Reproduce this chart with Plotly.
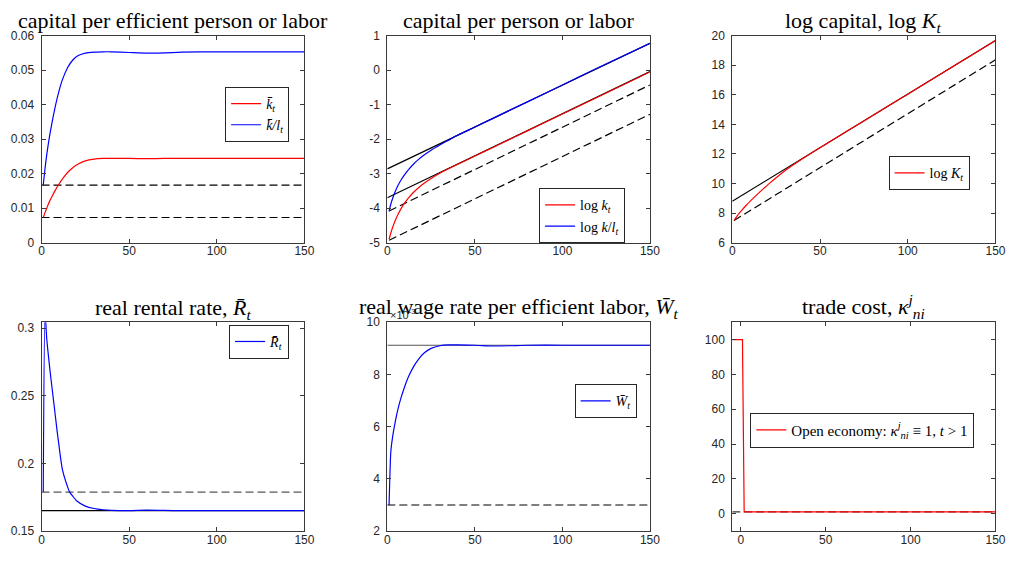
import plotly.graph_objects as go

# ---- time grid (sampled periods) ----
t = [1, 2, 3, 4, 5, 6, 8, 10, 12, 15, 18, 21, 25, 30, 35, 40, 50, 60, 70, 80, 100, 120, 150]

# panel 1: capital per efficient person / labor
k_bar = [0.0073, 0.0087, 0.0100, 0.0113, 0.0124, 0.0134, 0.0153, 0.0170, 0.0185, 0.0204, 0.0218,
         0.0228, 0.0237, 0.0242, 0.0244, 0.02445, 0.0244, 0.02435, 0.0244, 0.0244, 0.0244, 0.0244, 0.0244]
kl_bar = [0.0167, 0.0215, 0.0255, 0.0290, 0.0320, 0.0348, 0.0398, 0.0440, 0.0473, 0.0508, 0.0530,
          0.0542, 0.0549, 0.0552, 0.0553, 0.0553, 0.0551, 0.0549, 0.0550, 0.0552, 0.0553, 0.0553, 0.0553]
k_bar_init, kl_bar_init = 0.0073, 0.0167

# panel 2: capital per person / labor (logs)
log_k = [-4.90, -4.72, -4.56, -4.42, -4.30, -4.19, -4.00, -3.84, -3.71, -3.54, -3.40,
         -3.28, -3.14, -2.99, -2.86, -2.735, -2.49, -2.25, -2.005, -1.76, -1.273, -0.785, -0.053]
log_kl = [-4.09, -3.88, -3.72, -3.58, -3.46, -3.35, -3.17, -3.02, -2.89, -2.72, -2.58,
          -2.46, -2.32, -2.17, -2.03, -1.89, -1.65, -1.405, -1.16, -0.92, -0.43, 0.06, 0.774]
bgp_t = [0, 150]
bgp_log_k = [-3.70, -0.045]
bgp_log_kl = [-2.862, 0.774]
init_t = [1, 150]
init_log_k = [-4.93, -1.28]
init_log_kl = [-4.08, -0.43]

# panel 3: log aggregate capital
log_K = [7.50, 7.675, 7.84, 7.99, 8.13, 8.275, 8.53, 8.775, 9.01, 9.35, 9.67,
         9.99, 10.39, 10.86, 11.29, 11.68, 12.42, 13.15, 13.87, 14.60, 16.04, 17.49, 19.67]
bgp_log_K = [8.80, 19.67]
init_log_K = [7.50, 18.36]

# panel 4: real rental rate
t_r = [1, 2, 3, 4, 5, 6, 7, 8, 9, 10, 11, 12, 14, 16, 18, 20, 25, 30, 35, 40, 50, 60, 70, 80, 100, 150]
R_bar = [0.179, 0.312, 0.292, 0.279, 0.267, 0.256, 0.245, 0.234, 0.223, 0.213, 0.203, 0.195, 0.186,
         0.179, 0.1755, 0.1725, 0.1685, 0.1667, 0.1658, 0.1654, 0.1652, 0.1655, 0.1653, 0.1651, 0.1651, 0.1651]
R_ss, R_init = 0.1651, 0.1788

# panel 5: real wage per efficient labor
t_w = [1, 2, 3, 4, 5, 6, 8, 10, 12, 15, 18, 21, 25, 30, 35, 40, 50, 60, 70, 80, 100, 150]
W_bar = [0.00300, 0.00505, 0.00560, 0.00600, 0.00635, 0.00665, 0.00715, 0.00755, 0.00790, 0.00830,
         0.00860, 0.00882, 0.00900, 0.00910, 0.00913, 0.00913, 0.00912, 0.00909, 0.00910, 0.00912,
         0.00912, 0.00912]
W_ss, W_init = 0.00912, 0.00300

# panel 6: trade cost
t_tc = [-5, 1, 2, 150]
kappa = [100, 100, 1, 1]
kappa_ref = 1

RED, BLUE, BLACK = "#ff0000", "#0000ff", "#000000"
DASH = "8px,4px"
LW = 1.2

fig = go.Figure()


def line(x, y, color, ax, dash=None, name=None, legend=None, shape="linear", width=LW):
    fig.add_trace(go.Scatter(
        x=x, y=y, mode="lines", name=name or "",
        line=dict(color=color, width=width, dash=dash, shape=shape, smoothing=0.6),
        xaxis="x" + ax, yaxis="y" + ax,
        showlegend=name is not None, legend=legend, hoverinfo="skip"))


full = [0, 150]
# panel 1
line(full, [k_bar_init] * 2, BLACK, "", DASH)
line(full, [kl_bar_init] * 2, BLACK, "", DASH)
line(t, k_bar, RED, "", name="<i>k̄<sub>t</sub></i>", legend="legend", shape="spline")
line(t, kl_bar, BLUE, "", name="<i>k̄/l<sub>t</sub></i>", legend="legend", shape="spline")
# panel 2
line(bgp_t, bgp_log_kl, BLACK, "2")
line(bgp_t, bgp_log_k, BLACK, "2")
line(init_t, init_log_kl, BLACK, "2", DASH)
line(init_t, init_log_k, BLACK, "2", DASH)
line(t, log_k, RED, "2", name="log <i>k<sub>t</sub></i>", legend="legend2", shape="spline")
line(t, log_kl, BLUE, "2", name="log <i>k</i>/<i>l<sub>t</sub></i>", legend="legend2", shape="spline")
# panel 3
line(bgp_t, bgp_log_K, BLACK, "3")
line(init_t, init_log_K, BLACK, "3", DASH)
line(t, log_K, RED, "3", name="log <i>K<sub>t</sub></i>", legend="legend3", shape="spline")
# panel 4
line(full, [R_ss] * 2, BLACK, "4")
line(full, [R_init] * 2, "#555555", "4", DASH)
line(t_r, R_bar, BLUE, "4", name="<i>R̄<sub>t</sub></i>", legend="legend4", shape="spline")
# panel 5
line(full, [W_ss] * 2, "#555555", "5")
line(full, [W_init] * 2, BLACK, "5", DASH)
line(t_w, W_bar, BLUE, "5", name="<i>W̄<sub>t</sub></i>", legend="legend5", shape="spline")
# panel 6
line([-5, 150], [kappa_ref] * 2, "#333333", "6", DASH)
line(t_tc, kappa, RED, "6", name="Open economy: <i>κ</i><sup><i>j</i></sup><sub><i>ni</i></sub> ≡ 1, <i>t</i> > 1",
     legend="legend6")

W, H = 1019, 562
cols = [(39.0, 305.3), (389.3, 655.3), (738.7, 1005.3)]
rows = [(29.3, 241.7), (323.3, 537.5)]

AX = "#262626"
tickfont = dict(family="Liberation Sans, Arial, sans-serif", size=12, color=AX)

panels = [
    dict(x=[0, 150], y=[0, 0.06], yt=[0, 0.01, 0.02, 0.03, 0.04, 0.05, 0.06],
         ytt=["0", "0.01", "0.02", "0.03", "0.04", "0.05", "0.06"], xt=[0, 50, 100, 150]),
    dict(x=[0, 150], y=[-5, 1], yt=[-5, -4, -3, -2, -1, 0, 1],
         ytt=["-5", "-4", "-3", "-2", "-1", "0", "1"], xt=[0, 50, 100, 150]),
    dict(x=[0, 150], y=[6, 20], yt=[6, 8, 10, 12, 14, 16, 18, 20],
         ytt=["6", "8", "10", "12", "14", "16", "18", "20"], xt=[0, 50, 100, 150]),
    dict(x=[0, 150], y=[0.15, 0.3044], yt=[0.15, 0.2, 0.25, 0.3],
         ytt=["0.15", "0.2", "0.25", "0.3"], xt=[0, 50, 100, 150]),
    dict(x=[0, 150], y=[0.002, 0.010], yt=[0.002, 0.004, 0.006, 0.008, 0.010],
         ytt=["2", "4", "6", "8", "10"], xt=[0, 50, 100, 150]),
    dict(x=[-5, 150], y=[-10, 110], yt=[0, 20, 40, 60, 80, 100],
         ytt=["0", "20", "40", "60", "80", "100"], xt=[0, 50, 100, 150]),
]

layout = dict(width=W, height=H, margin=dict(l=0, r=0, t=0, b=0),
              paper_bgcolor="white", plot_bgcolor="white", showlegend=True)

for i, p in enumerate(panels):
    r, c = divmod(i, 3)
    x0, x1 = cols[c]
    y0, y1 = rows[r]
    sfx = "" if i == 0 else str(i + 1)
    common = dict(showline=True, linecolor="#3a3a3a", linewidth=1, mirror="ticks",
                  ticks="inside", ticklen=4, tickwidth=1, tickcolor="#3a3a3a",
                  showgrid=False, zeroline=False, tickfont=tickfont, fixedrange=True)
    layout["xaxis" + sfx] = dict(common, domain=[x0 / W, x1 / W], range=p["x"],
                                 tickvals=p["xt"], ticktext=[str(v) for v in p["xt"]],
                                 anchor="y" + sfx, ticklabelstandoff=-3)
    layout["yaxis" + sfx] = dict(common, domain=[1 - y1 / H, 1 - y0 / H], range=p["y"],
                                 tickvals=p["yt"], ticktext=p["ytt"], anchor="x" + sfx,
                                 ticklabelstandoff=4)

legend_style = dict(bgcolor="white", bordercolor="#262626", borderwidth=1,
                    font=dict(family="Liberation Serif, Times New Roman, serif", size=14, color="#000"),
                    xanchor="left", yanchor="top", tracegroupgap=0, itemwidth=30)
legend_pos = {"legend": (225, 82), "legend2": (543, 186), "legend3": (897, 153),
              "legend4": (229, 326), "legend5": (579, 387), "legend6": (757, 416)}
for key, (px, py) in legend_pos.items():
    layout[key] = dict(legend_style, x=px / W, y=1 - py / H)
layout["legend6"]["font"] = dict(legend_style["font"], size=15)

fig.update_layout(**layout)

titles = ["capital per efficient person or labor", "capital per person or labor",
          "log capital, log <i>K<sub>t</sub></i>", "real rental rate, <i>R̄<sub>t</sub></i>",
          "real wage rate per efficient labor, <i>W̄<sub>t</sub></i>",
          "trade cost, <i>κ</i><sup><i>j</i></sup><sub><i>ni</i></sub>"]
title_mid = [14, 14, 15, 310, 309, 307]
for i, txt in enumerate(titles):
    r, c = divmod(i, 3)
    x0, x1 = cols[c]
    fig.add_annotation(x=(x0 + x1) / 2 / W, y=1 - title_mid[i] / H, xref="paper", yref="paper",
                       text=txt, showarrow=False, xanchor="center", yanchor="middle",
                       font=dict(family="Liberation Serif, Times New Roman, serif", size=22, color="#000"))

# exponent marker for the wage axis
fig.add_annotation(x=390 / W, y=1 - 324 / H, xref="paper", yref="paper", text="×10<sup>-3</sup>",
                   showarrow=False, xanchor="left", yanchor="bottom",
                   font=dict(family="Liberation Sans, Arial, sans-serif", size=11, color=AX))

fig.write_html("out.html")
